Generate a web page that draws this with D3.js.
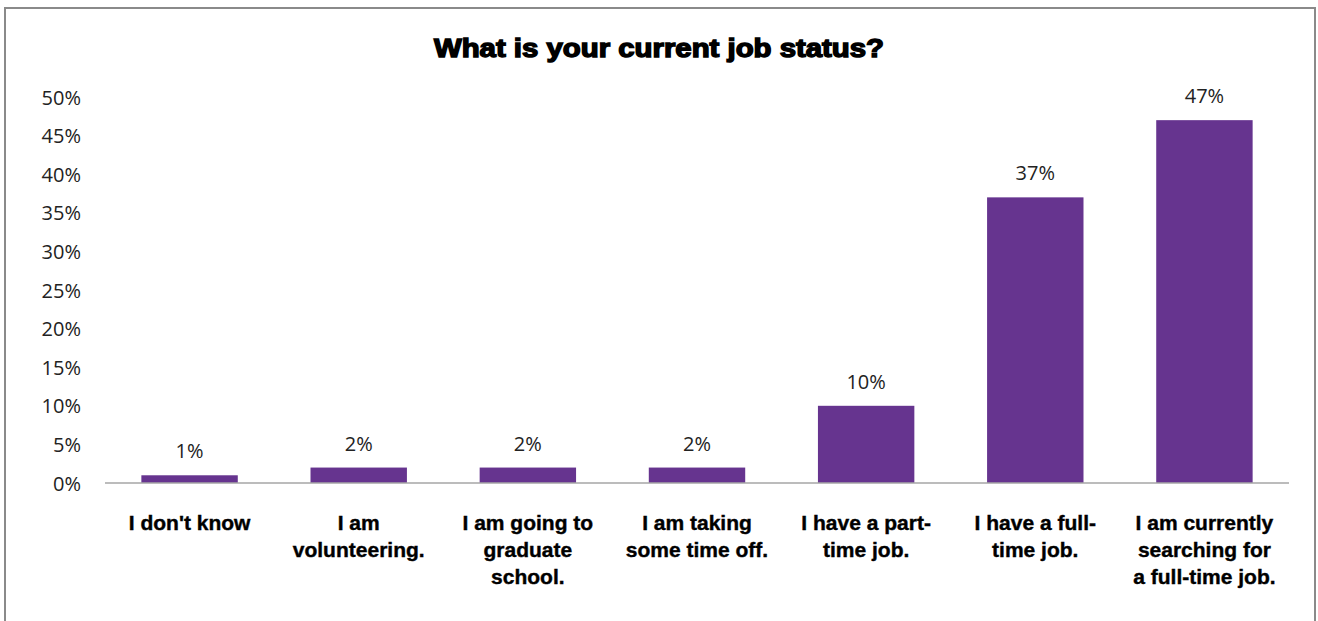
<!DOCTYPE html>
<html lang="en">
<head>
  <meta charset="UTF-8">
  <title>What is your current job status?</title>
  <script src="https://d3js.org/d3.v7.min.js"></script>
  <style>
    * { margin: 0; padding: 0; }
    body { background: #fff; }
    .tick text { font-family: 'Open Sans', 'DejaVu Sans', sans-serif; font-size: 20px; fill: #222; }
    .val { font-family: 'Open Sans', 'DejaVu Sans', sans-serif; font-size: 20px; fill: #222; }
    .cat { font-family: 'Liberation Sans', sans-serif; font-weight: bold; font-size: 21px; fill: #000; stroke: #000; stroke-width: 0.4px; }
    .title { font-family: 'Liberation Sans', sans-serif; font-weight: 900; font-size: 25px; fill: #000; stroke: #000; stroke-width: 1.4px; }
  </style>
</head>
<body>
<svg id="chart" width="1318" height="621"></svg>
<script>
  // data
  var categories = [
    ["I don't know"],
    ["I am", "volunteering."],
    ["I am going to", "graduate", "school."],
    ["I am taking", "some time off."],
    ["I have a part-", "time job."],
    ["I have a full-", "time job."],
    ["I am currently", "searching for", "a full-time job."]
  ];
  var values = [1, 2, 2, 2, 10, 37, 47];
  var yTicks = [0, 5, 10, 15, 20, 25, 30, 35, 40, 45, 50];

  var svg = d3.select("#chart");

  // frame
  svg.append("rect")
    .attr("x", 5).attr("y", 8)
    .attr("width", 1310).attr("height", 640)
    .attr("fill", "none")
    .attr("stroke", "#8a8a8a")
    .attr("stroke-width", 2);

  svg.append("text")
    .attr("class", "title")
    .attr("x", 659).attr("y", 57)
    .attr("text-anchor", "middle")
    .attr("textLength", 450)
    .attr("lengthAdjust", "spacingAndGlyphs")
    .text("What is your current job status?");

  var x = d3.scaleBand()
    .domain(d3.range(values.length))
    .range([105, 1289])
    .paddingInner(0.43)
    .paddingOuter(0.215);

  var y = d3.scaleLinear()
    .domain([0, 50])
    .range([483, 97]);

  // y axis (labels only)
  var yAxis = svg.append("g")
    .attr("transform", "translate(81,0)")
    .call(d3.axisLeft(y).tickValues(yTicks).tickSize(0).tickPadding(0)
      .tickFormat(function(d) { return d + "%"; }));
  yAxis.select(".domain").remove();
  yAxis.selectAll(".tick text").attr("dy", "0.35em");

  // bars
  svg.selectAll("rect.bar")
    .data(values)
    .enter().append("rect")
    .attr("class", "bar")
    .attr("x", function(d, i) { return x(i); })
    .attr("width", x.bandwidth())
    .attr("y", function(d) { return y(d); })
    .attr("height", function(d) { return y(0) - y(d); })
    .attr("fill", "#66348f");

  // baseline
  svg.append("line")
    .attr("x1", 105).attr("x2", 1289)
    .attr("y1", y(0)).attr("y2", y(0))
    .attr("stroke", "#a6a6a6")
    .attr("stroke-width", 1.5);

  // value labels
  svg.selectAll("text.val")
    .data(values)
    .enter().append("text")
    .attr("class", "val")
    .attr("x", function(d, i) { return x(i) + x.bandwidth() / 2; })
    .attr("y", function(d) { return y(d) - 17; })
    .attr("text-anchor", "middle")
    .text(function(d) { return d + "%"; });

  // category labels
  var cat = svg.selectAll("text.cat")
    .data(categories)
    .enter().append("text")
    .attr("class", "cat")
    .attr("text-anchor", "middle")
    .attr("x", function(d, i) { return x(i) + x.bandwidth() / 2; })
    .attr("y", 530);
  cat.selectAll("tspan")
    .data(function(d) { return d; })
    .enter().append("tspan")
    .attr("x", function() { return d3.select(this.parentNode).attr("x"); })
    .attr("dy", function(d, j) { return j === 0 ? 0 : 27; })
    .text(function(d) { return d; });
</script>
</body>
</html>
